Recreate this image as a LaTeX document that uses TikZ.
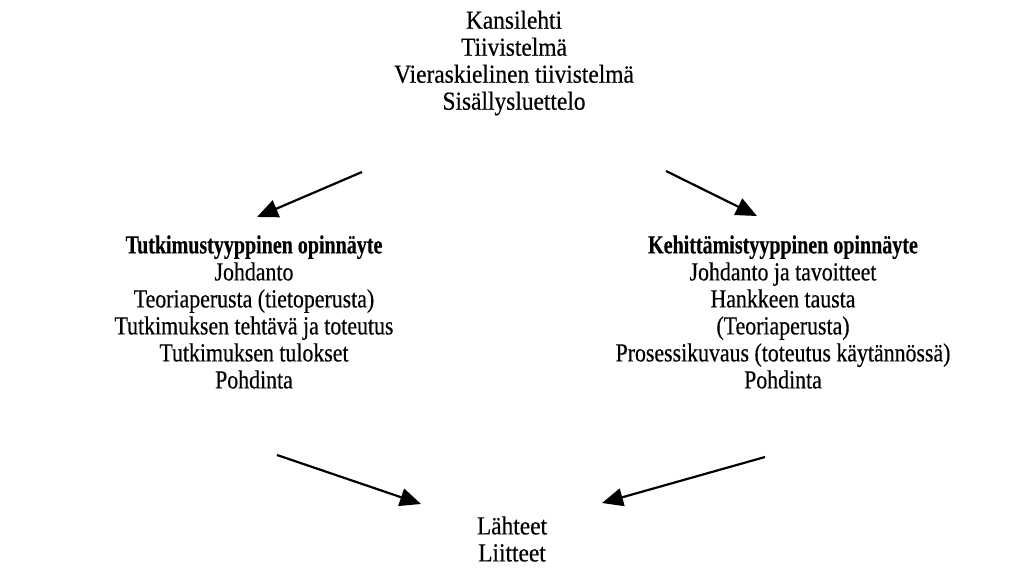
\documentclass[tikz,border=0pt]{standalone}
\usepackage{fontspec}
\setmainfont{Liberation Serif}[FakeStretch=0.84,FakeBold=0.4,BoldFeatures={FakeStretch=0.77,FakeBold=0.4}]
\newfontfamily\widefont{Liberation Serif}[FakeStretch=0.9,FakeBold=0.4]
\usetikzlibrary{arrows.meta}
\begin{document}
\begin{tikzpicture}[x=1pt,y=-1pt,
  blk/.style={align=center,inner sep=0pt,font=\fontsize{26}{27}\selectfont},
  wblk/.style={blk,font=\widefont\fontsize{26}{27}\selectfont},
  arr/.style={line width=2.2pt,-{Triangle[length=21pt,width=18pt]}}]
\useasboundingbox (0,0) rectangle (1029,582);
\node[wblk] (top) at (514,63) {Kansilehti\\Tiivistelmä\\Vieraskielinen tiivistelmä\\Sisällysluettelo};
\node[blk] (left) at (254,312) {\textbf{Tutkimustyyppinen opinnäyte}\\Johdanto\\Teoriaperusta (tietoperusta)\\Tutkimuksen tehtävä ja toteutus\\Tutkimuksen tulokset\\Pohdinta};
\node[blk] (right) at (783,312) {\textbf{Kehittämistyyppinen opinnäyte}\\Johdanto ja tavoitteet\\Hankkeen tausta\\(Teoriaperusta)\\Prosessikuvaus (toteutus käytännössä)\\Pohdinta};
\node[wblk] (bottom) at (512,539) {Lähteet\\Liitteet};
\coordinate (a1s) at (362,172); \coordinate (a1e) at (257,217);
\coordinate (a2s) at (666,171); \coordinate (a2e) at (757,216);
\coordinate (a3s) at (277,455); \coordinate (a3e) at (421,504);
\coordinate (a4s) at (765,457); \coordinate (a4e) at (602,503);
\draw[arr] (a1s) -- (a1e);
\draw[arr] (a2s) -- (a2e);
\draw[arr] (a3s) -- (a3e);
\draw[arr] (a4s) -- (a4e);
\end{tikzpicture}
\end{document}
